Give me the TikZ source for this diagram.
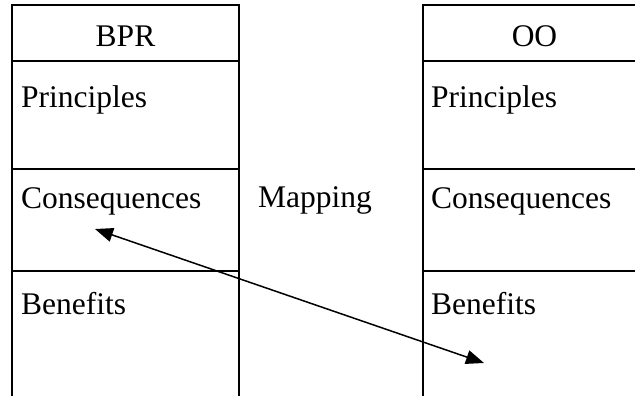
\documentclass[tikz,border=0pt]{standalone}
\usepackage{fontspec}
\setmainfont{Liberation Serif}
\usetikzlibrary{arrows.meta}
\begin{document}
\begin{tikzpicture}[x=1pt,y=-1pt,
  rule/.style={line width=1.4pt,black},
  celltext/.style={inner sep=0pt,anchor=base west,font=\fontsize{31.5}{36}\selectfont},
  headtext/.style={inner sep=0pt,anchor=base,font=\fontsize{31.5}{36}\selectfont},
  maparrow/.style={line width=1.5pt,{Triangle[length=18pt,width=14pt]}-{Triangle[length=18pt,width=14pt]}}]
\useasboundingbox (0,0) rectangle (635,396);

% BPR column
\draw[rule] (12,396) -- (12,5) -- (239,5) -- (239,396);
\draw[rule] (12,61) -- (239,61);
\draw[rule] (12,169) -- (239,169);
\draw[rule] (12,271) -- (239,271);
\node[headtext] (bpr) at (125.5,47) {BPR};
\node[celltext] (bprprin) at (21,107) {Principles};
\node[celltext] (bprcons) at (21,208) {Consequences};
\node[celltext] (bprben) at (21,314) {Benefits};

% OO column
\draw[rule] (423,396) -- (423,5) -- (640,5);
\draw[rule] (423,61) -- (640,61);
\draw[rule] (423,169) -- (640,169);
\draw[rule] (423,271) -- (640,271);
\node[headtext] (oo) at (534.5,47) {OO};
\node[celltext] (ooprin) at (431,107) {Principles};
\node[celltext] (oocons) at (431,208) {Consequences};
\node[celltext] (ooben) at (431,314) {Benefits};

% mapping label and link
\node[celltext] (mapping) at (258,207) {Mapping};
\coordinate (fromend) at (95,229);
\coordinate (toend) at (484,363);
\draw[maparrow] (fromend) -- (toend);
\end{tikzpicture}
\end{document}
